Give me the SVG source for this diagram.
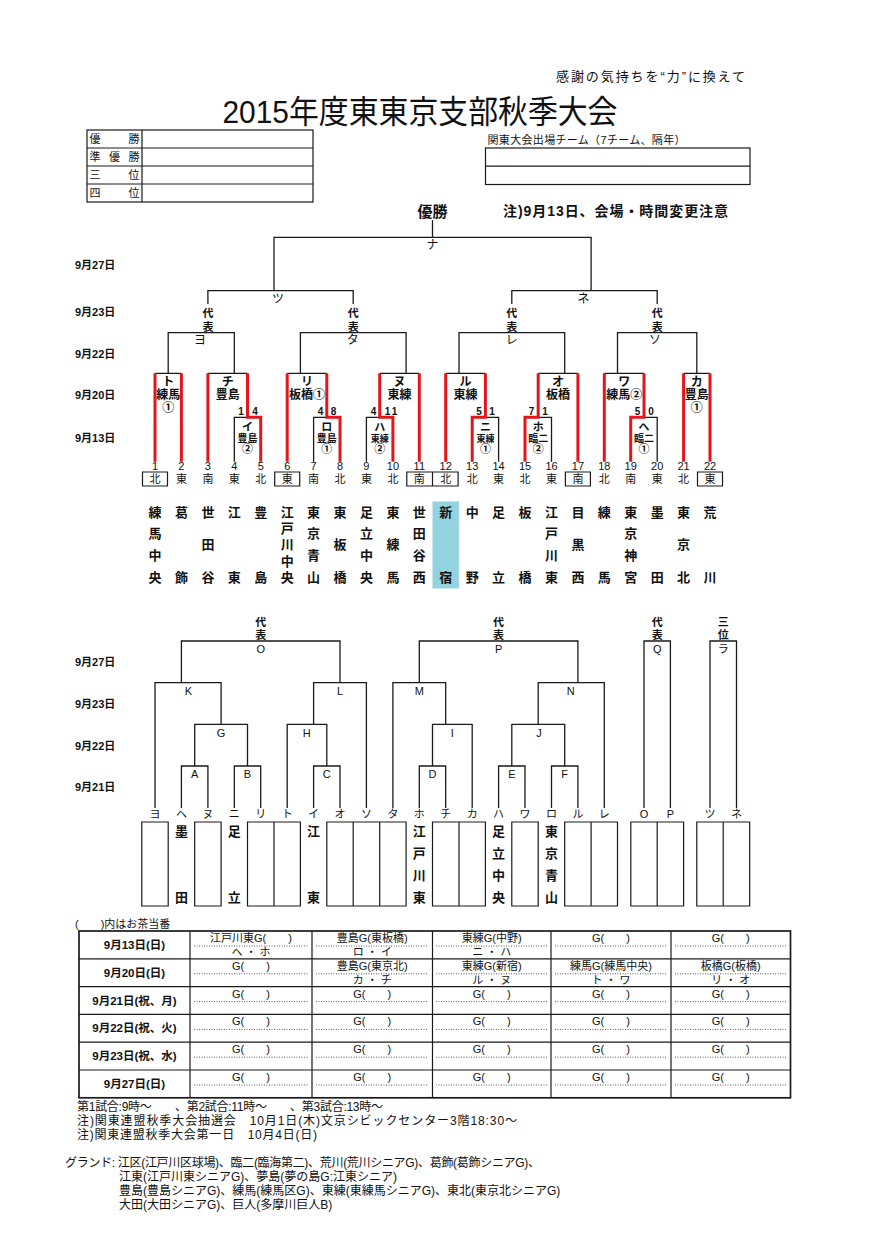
<svg xmlns="http://www.w3.org/2000/svg" width="886" height="1253" viewBox="0 0 886 1253">
<style>
text{font-family:'Liberation Sans','Noto Sans CJK JP',sans-serif;fill:#111;dominant-baseline:central}
.m{text-anchor:middle}
.b{font-weight:bold}
.ln{fill:none;stroke:#1a1a1a;stroke-width:1.3}
.red{fill:none;stroke:#e4161b;stroke-width:3}
.bx{fill:none;stroke:#1a1a1a;stroke-width:1.2}
.dot{fill:none;stroke:#333;stroke-width:0.8;stroke-dasharray:1 1.5}
.s10{font-size:10px}
.s11{font-size:11px}
.s12{font-size:12px}
.s13{font-size:13px}
.dt{font-size:11px;font-weight:bold}
.pr{letter-spacing:3px}
</style>
<rect width="886" height="1253" fill="#fff"/>

<g id="header">
<text x="745" y="76" class="s13" text-anchor="end" textLength="189" lengthAdjust="spacing">感謝の気持ちを“力”に換えて</text>
<text x="420" y="112" class="m" font-size="32" textLength="395" lengthAdjust="spacingAndGlyphs">2015年度東東京支部秋季大会</text>
</g>

<g id="result-table">
<rect x="87" y="130" width="226" height="72" class="bx"/>
<path d="M87,148H313M87,166H313M87,184H313M142,130V202" class="bx"/>
<text class="s11 m" y="139"><tspan x="95">優</tspan><tspan x="134">勝</tspan></text>
<text class="s11 m" y="157"><tspan x="95">準</tspan><tspan x="114.5">優</tspan><tspan x="134">勝</tspan></text>
<text class="s11 m" y="175"><tspan x="95">三</tspan><tspan x="134">位</tspan></text>
<text class="s11 m" y="193"><tspan x="95">四</tspan><tspan x="134">位</tspan></text>
</g>

<g id="kanto-table">
<text x="487.5" y="140" class="s11" textLength="198" lengthAdjust="spacing">関東大会出場チーム（7チーム、隔年）</text>
<rect x="485.5" y="148" width="264.5" height="36.5" class="bx"/>
<path d="M485.5,166.2H750" class="bx"/>
</g>

<g id="notes-top">
<text x="432.5" y="211" class="m b" font-size="15">優勝</text>
<text x="503" y="211" class="b" font-size="14" textLength="225" lengthAdjust="spacing">注)9月13日、会場・時間変更注意</text>
</g>

<g id="dates-top">
<text x="75" y="264.5" class="dt">9月27日</text>
<text x="75" y="311.5" class="dt">9月23日</text>
<text x="75" y="354" class="dt">9月22日</text>
<text x="75" y="395" class="dt">9月20日</text>
<text x="75" y="438" class="dt">9月13日</text>
</g>

<g id="connectors-top">
<path class="ln" d="M432.5,220V237.3M274,290.7V237.3H591.1V290.7"/>
<path class="ln" d="M207.9,304V290.7H353.2V304M511.8,304V290.7H657.2V304"/>
<path class="ln" d="M168.2,373.3V332.7H234.3V373.3M300.4,373.3V332.7H406.1V373.3M459,373.3V332.7H564.7V373.3M617.5,373.3V332.7H696.8V373.3"/>
<path class="ln" d="M155,373.3H181.4M207.9,373.3H247.5M287.2,373.3H326.8M379.7,373.3H419.3M445.7,373.3H485.4M538.2,373.3H577.9M604.3,373.3H644M683.6,373.3H710"/>
<path class="ln" d="M234.3,461.7V417.3H260.7M313.6,461.7V417.3H340M366.4,461.7V417.3H392.9M472.2,417.3H498.6V461.7M525,417.3H551.5V461.7M630.7,417.3H657.2V461.7"/>
<path class="red" d="M155,373.3V461.7M181.4,373.3V461.7M207.9,373.3V461.7M247.5,373.3V417.3H260.7V461.7M287.2,373.3V461.7M326.8,373.3V417.3H340V461.7M379.7,373.3V417.3H392.9V461.7M419.3,373.3V461.7M445.7,373.3V461.7M485.4,373.3V417.3H472.2V461.7M538.2,373.3V417.3H525V461.7M577.9,373.3V461.7M604.3,373.3V461.7M644,373.3V417.3H630.7V461.7M683.6,373.3V461.7M710,373.3V461.7"/>
</g>

<g id="labels-top">
<text x="432.5" y="245" class="m s12">ナ</text>
<text x="278" y="299" class="m s12">ツ</text>
<text x="583.5" y="299" class="m s12">ネ</text>
<text class="m b s11"><tspan x="207.9" y="313">代</tspan><tspan x="207.9" y="326.7">表</tspan></text>
<text class="m b s11"><tspan x="353.2" y="313">代</tspan><tspan x="353.2" y="326.7">表</tspan></text>
<text class="m b s11"><tspan x="511.8" y="313">代</tspan><tspan x="511.8" y="326.7">表</tspan></text>
<text class="m b s11"><tspan x="657.2" y="313">代</tspan><tspan x="657.2" y="326.7">表</tspan></text>
<text x="200" y="340" class="m s12">ヨ</text>
<text x="352.7" y="340" class="m s12">タ</text>
<text x="511.7" y="340" class="m s12">レ</text>
<text x="655" y="340" class="m s12">ソ</text>
</g>

<g id="match-to" class="m b s12"><text x="168.2" y="381.7">ト</text><text x="168.2" y="395">練馬</text><text x="168.2" y="408">①</text></g>
<g id="match-chi" class="m b s12"><text x="227.7" y="381.7">チ</text><text x="227.7" y="395">豊島</text></g>
<g id="match-i" class="m b"><text x="241" y="411" class="s10">1</text><text x="255" y="411" class="s10">4</text><text x="247.5" y="427" class="s11">イ</text><text x="247.5" y="438.5" class="s10">豊島</text><text x="247.5" y="449" class="s11">②</text></g>
<g id="match-ri" class="m b s12"><text x="307" y="381.7">リ</text><text x="307" y="395">板橋①</text></g>
<g id="match-ro" class="m b"><text x="320.5" y="411" class="s10">4</text><text x="333.5" y="411" class="s10">8</text><text x="326.8" y="427" class="s11">ロ</text><text x="326.8" y="438.5" class="s10">豊島</text><text x="326.8" y="449" class="s11">①</text></g>
<g id="match-nu" class="m b s12"><text x="399.5" y="381.7">ヌ</text><text x="399.5" y="395">東練</text></g>
<g id="match-ha" class="m b"><text x="373.5" y="411" class="s10">4</text><text x="392" y="411" class="s10" letter-spacing="2">11</text><text x="379.7" y="427" class="s11">ハ</text><text x="379.7" y="438.5" font-size="9">東練</text><text x="379.7" y="449" class="s11">②</text></g>
<g id="match-ru" class="m b s12"><text x="465.5" y="381.7">ル</text><text x="465.5" y="395">東練</text></g>
<g id="match-ni" class="m b"><text x="479" y="411" class="s10">5</text><text x="492" y="411" class="s10">1</text><text x="485.4" y="427" class="s11">ニ</text><text x="485.4" y="438.5" font-size="9">東練</text><text x="485.4" y="449" class="s11">①</text></g>
<g id="match-o" class="m b s12"><text x="558" y="381.7">オ</text><text x="558" y="395">板橋</text></g>
<g id="match-ho" class="m b"><text x="531.5" y="411" class="s10">7</text><text x="545" y="411" class="s10">1</text><text x="538.2" y="427" class="s11">ホ</text><text x="538.2" y="438.5" class="s10">臨二</text><text x="538.2" y="449" class="s11">②</text></g>
<g id="match-wa" class="m b s12"><text x="624.2" y="381.7">ワ</text><text x="624.2" y="395">練馬②</text></g>
<g id="match-he" class="m b"><text x="637.5" y="411" class="s10">5</text><text x="651" y="411" class="s10">0</text><text x="644" y="427" class="s11">ヘ</text><text x="644" y="438.5" class="s10">臨二</text><text x="644" y="449" class="s11">①</text></g>
<g id="match-ka" class="m b s12"><text x="696.8" y="381.7">カ</text><text x="696.8" y="395">豊島</text><text x="696.8" y="408">①</text></g>

<g id="team-numbers" class="m s11">
<text y="466"><tspan x="155">1</tspan><tspan x="181.4">2</tspan><tspan x="207.9">3</tspan><tspan x="234.3">4</tspan><tspan x="260.7">5</tspan><tspan x="287.2">6</tspan><tspan x="313.6">7</tspan><tspan x="340">8</tspan><tspan x="366.4">9</tspan><tspan x="392.9">10</tspan><tspan x="419.3">11</tspan><tspan x="445.7">12</tspan><tspan x="472.2">13</tspan><tspan x="498.6">14</tspan><tspan x="525">15</tspan><tspan x="551.5">16</tspan><tspan x="577.9">17</tspan><tspan x="604.3">18</tspan><tspan x="630.7">19</tspan><tspan x="657.2">20</tspan><tspan x="683.6">21</tspan><tspan x="710">22</tspan></text>
<text y="479"><tspan x="155">北</tspan><tspan x="181.4">東</tspan><tspan x="207.9">南</tspan><tspan x="234.3">東</tspan><tspan x="260.7">北</tspan><tspan x="287.2">東</tspan><tspan x="313.6">南</tspan><tspan x="340">北</tspan><tspan x="366.4">東</tspan><tspan x="392.9">北</tspan><tspan x="419.3">南</tspan><tspan x="445.7">北</tspan><tspan x="472.2">北</tspan><tspan x="498.6">東</tspan><tspan x="525">北</tspan><tspan x="551.5">東</tspan><tspan x="577.9">南</tspan><tspan x="604.3">北</tspan><tspan x="630.7">南</tspan><tspan x="657.2">東</tspan><tspan x="683.6">北</tspan><tspan x="710">東</tspan></text>
<path class="bx" d="M142.5,472h25v14h-25zM274.7,472h25v14h-25zM406.8,472h51.3v14h-51.3zM432.5,472v14M565.4,472h25v14h-25zM697.5,472h25v14h-25z"/>
</g>

<rect id="shinjuku-hl" x="432.5" y="501.5" width="26.4" height="87" fill="#93d3df"/>

<g id="team-names" class="m b s13">
<text><tspan x="155" y="511.5">練</tspan><tspan x="155" y="533.3">馬</tspan><tspan x="155" y="555.2">中</tspan><tspan x="155" y="577">央</tspan></text>
<text><tspan x="181.4" y="511.5">葛</tspan><tspan x="181.4" y="577">飾</tspan></text>
<text><tspan x="207.9" y="511.5">世</tspan><tspan x="207.9" y="544.3">田</tspan><tspan x="207.9" y="577">谷</tspan></text>
<text><tspan x="234.3" y="511.5">江</tspan><tspan x="234.3" y="577">東</tspan></text>
<text><tspan x="260.7" y="511.5">豊</tspan><tspan x="260.7" y="577">島</tspan></text>
<text><tspan x="287.2" y="511.5">江</tspan><tspan x="287.2" y="527.9">戸</tspan><tspan x="287.2" y="544.3">川</tspan><tspan x="287.2" y="560.6">中</tspan><tspan x="287.2" y="577">央</tspan></text>
<text><tspan x="313.6" y="511.5">東</tspan><tspan x="313.6" y="533.3">京</tspan><tspan x="313.6" y="555.2">青</tspan><tspan x="313.6" y="577">山</tspan></text>
<text><tspan x="340" y="511.5">東</tspan><tspan x="340" y="544.3">板</tspan><tspan x="340" y="577">橋</tspan></text>
<text><tspan x="366.4" y="511.5">足</tspan><tspan x="366.4" y="533.3">立</tspan><tspan x="366.4" y="555.2">中</tspan><tspan x="366.4" y="577">央</tspan></text>
<text><tspan x="392.9" y="511.5">東</tspan><tspan x="392.9" y="544.3">練</tspan><tspan x="392.9" y="577">馬</tspan></text>
<text><tspan x="419.3" y="511.5">世</tspan><tspan x="419.3" y="533.3">田</tspan><tspan x="419.3" y="555.2">谷</tspan><tspan x="419.3" y="577">西</tspan></text>
<text><tspan x="445.7" y="511.5">新</tspan><tspan x="445.7" y="577">宿</tspan></text>
<text><tspan x="472.2" y="511.5">中</tspan><tspan x="472.2" y="577">野</tspan></text>
<text><tspan x="498.6" y="511.5">足</tspan><tspan x="498.6" y="577">立</tspan></text>
<text><tspan x="525" y="511.5">板</tspan><tspan x="525" y="577">橋</tspan></text>
<text><tspan x="551.5" y="511.5">江</tspan><tspan x="551.5" y="533.3">戸</tspan><tspan x="551.5" y="555.2">川</tspan><tspan x="551.5" y="577">東</tspan></text>
<text><tspan x="577.9" y="511.5">目</tspan><tspan x="577.9" y="544.3">黒</tspan><tspan x="577.9" y="577">西</tspan></text>
<text><tspan x="604.3" y="511.5">練</tspan><tspan x="604.3" y="577">馬</tspan></text>
<text><tspan x="630.7" y="511.5">東</tspan><tspan x="630.7" y="533.3">京</tspan><tspan x="630.7" y="555.2">神</tspan><tspan x="630.7" y="577">宮</tspan></text>
<text><tspan x="657.2" y="511.5">墨</tspan><tspan x="657.2" y="577">田</tspan></text>
<text><tspan x="683.6" y="511.5">東</tspan><tspan x="683.6" y="544.3">京</tspan><tspan x="683.6" y="577">北</tspan></text>
<text><tspan x="710" y="511.5">荒</tspan><tspan x="710" y="577">川</tspan></text>
</g>

<g id="dates-bottom">
<text x="75" y="662" class="dt">9月27日</text>
<text x="75" y="703.5" class="dt">9月23日</text>
<text x="75" y="745.5" class="dt">9月22日</text>
<text x="75" y="787" class="dt">9月21日</text>
</g>

<g id="connectors-bottom">
<path class="ln" d="M181.4,682.7V641H340V682.7M155,808V682.7H221.1V724.3M194.7,766V724.3H247.5V766M181.4,808V766H207.9V808M234.3,808V766H260.7V808"/>
<path class="ln" d="M313.6,724.3V682.7H366.4V808M287.2,808V724.3H326.8V766M313.6,808V766H340V808"/>
<path class="ln" d="M419.3,682.7V641H577.9V682.7M392.9,808V682.7H445.7V724.3M432.5,766V724.3H472.2V808M419.3,808V766H445.7V808"/>
<path class="ln" d="M538.2,724.3V682.7H604.3V808M511.8,766V724.3H564.7V766M498.6,808V766H525V808M551.5,808V766H577.9V808"/>
<path class="ln" d="M644,808V641H670.4V808M710,808V641H736.5V808"/>
</g>

<g id="labels-bottom" class="m">
<text class="b s11"><tspan x="260.7" y="621.7">代</tspan><tspan x="260.7" y="635">表</tspan></text>
<text class="b s11"><tspan x="498.6" y="621.7">代</tspan><tspan x="498.6" y="635">表</tspan></text>
<text class="b s11"><tspan x="657.2" y="621.7">代</tspan><tspan x="657.2" y="635">表</tspan></text>
<text class="b s11"><tspan x="723.2" y="621.7">三</tspan><tspan x="723.2" y="635">位</tspan></text>
<g class="s11">
<text x="260.7" y="649.3">O</text><text x="498.6" y="649.3">P</text><text x="657.2" y="649.3">Q</text><text x="723.2" y="649.3">ラ</text>
<text x="188.3" y="690.7">K</text><text x="340" y="690.7">L</text><text x="419.3" y="690.7">M</text><text x="570.7" y="690.7">N</text>
<text x="221.1" y="732.7">G</text><text x="306.7" y="732.7">H</text><text x="452.3" y="732.7">I</text><text x="539" y="732.7">J</text>
<text x="194.7" y="774">A</text><text x="247.5" y="774">B</text><text x="326.8" y="774">C</text><text x="432.5" y="774">D</text><text x="511.8" y="774">E</text><text x="564.7" y="774">F</text>
</g>
<text class="s11" y="814"><tspan x="155">ヨ</tspan><tspan x="181.4">ヘ</tspan><tspan x="207.9">ヌ</tspan><tspan x="234.3">ニ</tspan><tspan x="260.7">リ</tspan><tspan x="287.2">ト</tspan><tspan x="313.6">イ</tspan><tspan x="340">オ</tspan><tspan x="366.4">ソ</tspan><tspan x="392.9">タ</tspan><tspan x="419.3">ホ</tspan><tspan x="445.7">チ</tspan><tspan x="472.2">カ</tspan><tspan x="498.6">ハ</tspan><tspan x="525">ワ</tspan><tspan x="551.5">ロ</tspan><tspan x="577.9">ル</tspan><tspan x="604.3">レ</tspan><tspan x="644">O</tspan><tspan x="670.4">P</tspan><tspan x="710">ツ</tspan><tspan x="736.5">ネ</tspan></text>
</g>

<g id="bottom-boxes">
<path class="bx" d="M141.8,822H168.2V906H141.8ZM194.7,822H221.1V906H194.7ZM247.5,822H300.4V906H247.5ZM274,822V906M326.8,822H406.1V906H326.8ZM353.2,822V906M379.7,822V906M432.5,822H485.4V906H432.5ZM459,822V906M511.8,822H538.2V906H511.8ZM564.7,822H617.5V906H564.7ZM591.1,822V906M630.8,822H683.6V906H630.8ZM657.2,822V906M696.8,822H749.7V906H696.8ZM723.2,822V906"/>
<g class="m b s13">
<text><tspan x="181.4" y="831">墨</tspan><tspan x="181.4" y="897">田</tspan></text>
<text><tspan x="234.3" y="831">足</tspan><tspan x="234.3" y="897">立</tspan></text>
<text><tspan x="313.6" y="831">江</tspan><tspan x="313.6" y="897">東</tspan></text>
<text><tspan x="419.3" y="831">江</tspan><tspan x="419.3" y="853">戸</tspan><tspan x="419.3" y="875">川</tspan><tspan x="419.3" y="897">東</tspan></text>
<text><tspan x="498.6" y="831">足</tspan><tspan x="498.6" y="853">立</tspan><tspan x="498.6" y="875">中</tspan><tspan x="498.6" y="897">央</tspan></text>
<text><tspan x="551.5" y="831">東</tspan><tspan x="551.5" y="853">京</tspan><tspan x="551.5" y="875">青</tspan><tspan x="551.5" y="897">山</tspan></text>
</g>
</g>

<g id="schedule">
<text x="75" y="924" class="s11">(　　)内はお茶当番</text>
<rect x="79" y="931" width="711.5" height="166.8" fill="none" stroke="#1a1a1a" stroke-width="1.7"/>
<path class="bx" d="M79,958.8H790.5M79,986.6H790.5M79,1014.4H790.5M79,1042.2H790.5M79,1070H790.5M190,931V1097.8M312,931V1097.8M432.5,931V1097.8M551,931V1097.8M671,931V1097.8"/>
<path class="dot" d="M194,946H308M316,946H428M436,946H547M555,946H667M675,946H786M194,973.8H308M316,973.8H428M436,973.8H547M555,973.8H667M675,973.8H786M194,1001.6H308M316,1001.6H428M436,1001.6H547M555,1001.6H667M675,1001.6H786M194,1029.4H308M316,1029.4H428M436,1029.4H547M555,1029.4H667M675,1029.4H786M194,1057.2H308M316,1057.2H428M436,1057.2H547M555,1057.2H667M675,1057.2H786M194,1085H308M316,1085H428M436,1085H547M555,1085H667M675,1085H786"/>
<g class="m b" font-size="11.5">
<text x="134.5" y="945">9月13日(日)</text>
<text x="134.5" y="972.8">9月20日(日)</text>
<text x="134.5" y="1000.6">9月21日(祝、月)</text>
<text x="134.5" y="1028.4">9月22日(祝、火)</text>
<text x="134.5" y="1056.2">9月23日(祝、水)</text>
<text x="134.5" y="1084">9月27日(日)</text>
</g>
<g class="m s11">
<text x="251" y="938">江戸川東G(　　)</text><text x="372.2" y="938">豊島G(東板橋)</text><text x="491.7" y="938">東練G(中野)</text><text x="611" y="938">G(　　)</text><text x="730.7" y="938">G(　　)</text>
<text x="252.5" y="952" class="pr">ヘ・ホ</text><text x="373.7" y="952" class="pr">ロ・イ</text><text x="493.2" y="952" class="pr">ニ・ハ</text>
<text x="251" y="965.8">G(　　)</text><text x="372.2" y="965.8">豊島G(東京北)</text><text x="491.7" y="965.8">東練G(新宿)</text><text x="611" y="965.8">練馬G(練馬中央)</text><text x="730.7" y="965.8">板橋G(板橋)</text>
<text x="373.7" y="979.8" class="pr">カ・チ</text><text x="493.2" y="979.8" class="pr">ル・ヌ</text><text x="612.5" y="979.8" class="pr">ト・ワ</text><text x="732.2" y="979.8" class="pr">リ・オ</text>
<text y="993.6"><tspan x="251">G(　　)</tspan><tspan x="372.2">G(　　)</tspan><tspan x="491.7">G(　　)</tspan><tspan x="611">G(　　)</tspan><tspan x="730.7">G(　　)</tspan></text>
<text y="1021.4"><tspan x="251">G(　　)</tspan><tspan x="372.2">G(　　)</tspan><tspan x="491.7">G(　　)</tspan><tspan x="611">G(　　)</tspan><tspan x="730.7">G(　　)</tspan></text>
<text y="1049.2"><tspan x="251">G(　　)</tspan><tspan x="372.2">G(　　)</tspan><tspan x="491.7">G(　　)</tspan><tspan x="611">G(　　)</tspan><tspan x="730.7">G(　　)</tspan></text>
<text y="1077"><tspan x="251">G(　　)</tspan><tspan x="372.2">G(　　)</tspan><tspan x="491.7">G(　　)</tspan><tspan x="611">G(　　)</tspan><tspan x="730.7">G(　　)</tspan></text>
</g>
</g>

<g id="footer" class="s12">
<text x="77" y="1107" textLength="306" lengthAdjust="spacing">第1試合:9時～　　、第2試合:11時～　　、第3試合:13時～</text>
<text x="77" y="1121" textLength="440" lengthAdjust="spacing">注)関東連盟秋季大会抽選会　10月1日(木)文京シビックセンター3階18:30～</text>
<text x="77" y="1135" textLength="240" lengthAdjust="spacing">注)関東連盟秋季大会第一日　10月4日(日)</text>
<text x="65" y="1163" textLength="475" lengthAdjust="spacing">グランド: 江区(江戸川区球場)、臨二(臨海第二)、荒川(荒川シニアG)、葛飾(葛飾シニアG)、</text>
<text x="119" y="1177">江東(江戸川東シニアG)、夢島(夢の島G:江東シニア)</text>
<text x="119" y="1191">豊島(豊島シニアG)、練馬(練馬区G)、東練(東練馬シニアG)、東北(東京北シニアG)</text>
<text x="119" y="1205">大田(大田シニアG)、巨人(多摩川巨人B)</text>
</g>
</svg>
